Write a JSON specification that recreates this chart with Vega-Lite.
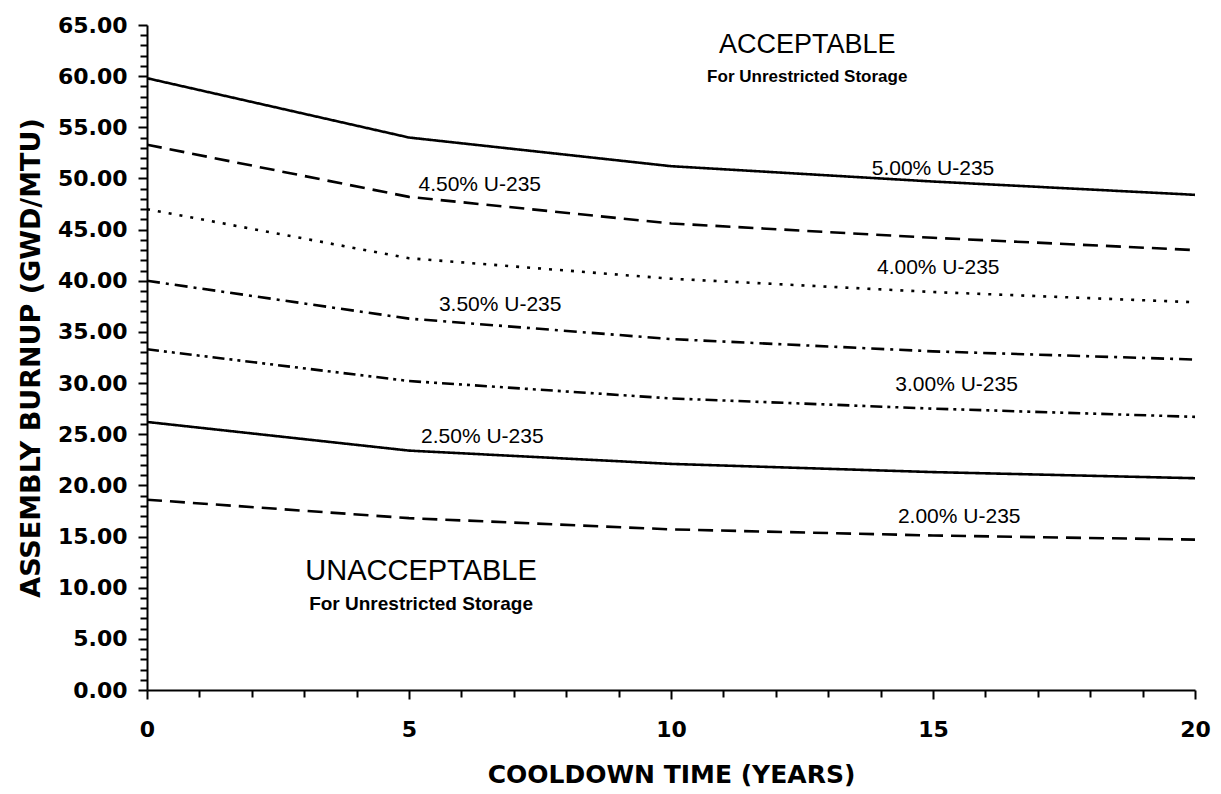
{
  "$schema": "https://vega.github.io/schema/vega-lite/v6.json",
  "width": 1048,
  "height": 665,
  "autosize": "none",
  "padding": {"left": 147, "top": 25, "right": 26, "bottom": 104},
  "background": "white",
  "config": {"view": {"stroke": null}, "font": "Liberation Sans"},
  "datasets": {
    "curves": [
      {"u": "5.00% U-235", "t": 0, "b": 59.8},
      {"u": "5.00% U-235", "t": 5, "b": 54.0},
      {"u": "5.00% U-235", "t": 10, "b": 51.2},
      {"u": "5.00% U-235", "t": 15, "b": 49.7},
      {"u": "5.00% U-235", "t": 20, "b": 48.4},
      {"u": "4.50% U-235", "t": 0, "b": 53.3},
      {"u": "4.50% U-235", "t": 5, "b": 48.2},
      {"u": "4.50% U-235", "t": 10, "b": 45.6},
      {"u": "4.50% U-235", "t": 15, "b": 44.2},
      {"u": "4.50% U-235", "t": 20, "b": 43.0},
      {"u": "4.00% U-235", "t": 0, "b": 47.0},
      {"u": "4.00% U-235", "t": 5, "b": 42.2},
      {"u": "4.00% U-235", "t": 10, "b": 40.2},
      {"u": "4.00% U-235", "t": 15, "b": 38.9},
      {"u": "4.00% U-235", "t": 20, "b": 37.9},
      {"u": "3.50% U-235", "t": 0, "b": 40.0},
      {"u": "3.50% U-235", "t": 5, "b": 36.3},
      {"u": "3.50% U-235", "t": 10, "b": 34.3},
      {"u": "3.50% U-235", "t": 15, "b": 33.1},
      {"u": "3.50% U-235", "t": 20, "b": 32.3},
      {"u": "3.00% U-235", "t": 0, "b": 33.3},
      {"u": "3.00% U-235", "t": 5, "b": 30.2},
      {"u": "3.00% U-235", "t": 10, "b": 28.5},
      {"u": "3.00% U-235", "t": 15, "b": 27.5},
      {"u": "3.00% U-235", "t": 20, "b": 26.7},
      {"u": "2.50% U-235", "t": 0, "b": 26.2},
      {"u": "2.50% U-235", "t": 5, "b": 23.4},
      {"u": "2.50% U-235", "t": 10, "b": 22.1},
      {"u": "2.50% U-235", "t": 15, "b": 21.3},
      {"u": "2.50% U-235", "t": 20, "b": 20.7},
      {"u": "2.00% U-235", "t": 0, "b": 18.6},
      {"u": "2.00% U-235", "t": 5, "b": 16.8},
      {"u": "2.00% U-235", "t": 10, "b": 15.7},
      {"u": "2.00% U-235", "t": 15, "b": 15.1},
      {"u": "2.00% U-235", "t": 20, "b": 14.7}
    ],
    "curveLabels": [
      {"label": "5.00% U-235", "t": 15.0, "b": 50.9},
      {"label": "4.50% U-235", "t": 6.35, "b": 49.4},
      {"label": "4.00% U-235", "t": 15.1, "b": 41.2},
      {"label": "3.50% U-235", "t": 6.74, "b": 37.6},
      {"label": "3.00% U-235", "t": 15.45, "b": 29.8},
      {"label": "2.50% U-235", "t": 6.4, "b": 24.7},
      {"label": "2.00% U-235", "t": 15.5, "b": 16.9}
    ],
    "upperTitle": [{"label": "ACCEPTABLE", "t": 12.6, "b": 63.0}],
    "upperSub": [{"label": "For Unrestricted Storage", "t": 12.6, "b": 59.9}],
    "lowerTitle": [{"label": "UNACCEPTABLE", "t": 5.23, "b": 11.6}],
    "lowerSub": [{"label": "For Unrestricted Storage", "t": 5.23, "b": 8.4}]
  },
  "encoding": {
    "x": {
      "field": "t", "type": "quantitative",
      "scale": {"domain": [0, 20], "nice": false, "zero": false},
      "axis": {
        "title": "COOLDOWN TIME (YEARS)",
        "titleFont": "DejaVu Sans", "titleFontSize": 25, "titleFontWeight": "bold",
        "titleColor": "black", "titlePadding": 22,
        "values": [0,1,2,3,4,5,6,7,8,9,10,11,12,13,14,15,16,17,18,19,20],
        "tickCount": 100,
        "labelExpr": "datum.value % 5 === 0 ? datum.value : ''",
        "labelFont": "DejaVu Sans", "labelFontSize": 22, "labelFontWeight": "bold",
        "labelColor": "black", "labelPadding": 20,
        "domainColor": "black", "domainWidth": 2,
        "tickColor": "black", "tickWidth": 2,
        "tickSize": {"condition": {"test": "datum.value % 5 === 0", "value": 9}, "value": 7},
        "grid": false, "labelFlush": false, "labelOverlap": false
      }
    },
    "y": {
      "field": "b", "type": "quantitative",
      "scale": {"domain": [0, 65], "nice": false},
      "axis": {
        "title": "ASSEMBLY BURNUP (GWD/MTU)",
        "titleFont": "DejaVu Sans", "titleFontSize": 27, "titleFontWeight": "bold",
        "titleColor": "black", "titlePadding": 12,
        "values": [0,1,2,3,4,5,6,7,8,9,10,11,12,13,14,15,16,17,18,19,20,21,22,23,24,25,26,27,28,29,30,31,32,33,34,35,36,37,38,39,40,41,42,43,44,45,46,47,48,49,50,51,52,53,54,55,56,57,58,59,60,61,62,63,64,65],
        "tickCount": 200,
        "labelExpr": "datum.value % 5 === 0 ? format(datum.value, '.2f') : ''",
        "labelFont": "DejaVu Sans", "labelFontSize": 22, "labelFontWeight": "bold",
        "labelColor": "black", "labelPadding": 11,
        "domainColor": "black", "domainWidth": 2,
        "tickColor": "black", "tickWidth": 2,
        "tickSize": {"condition": {"test": "datum.value % 5 === 0", "value": 9}, "value": 7},
        "grid": false, "labelFlush": false, "labelOverlap": false
      }
    }
  },
  "layer": [
    {
      "data": {"name": "curves"},
      "mark": {"type": "line", "color": "black", "strokeWidth": 2.6, "clip": true},
      "encoding": {
        "detail": {"field": "u"},
        "strokeDash": {
          "field": "u", "type": "nominal", "legend": null,
          "scale": {
            "domain": ["5.00% U-235", "4.50% U-235", "4.00% U-235", "3.50% U-235", "3.00% U-235", "2.50% U-235", "2.00% U-235"],
            "range": [[1, 0], [15, 8], [3, 8], [13, 6, 3, 6], [12, 5, 3, 5, 3, 5], [1, 0], [15, 8]]
          }
        }
      }
    },
    {
      "data": {"name": "curveLabels"},
      "mark": {"type": "text", "font": "Liberation Sans", "fontSize": 21, "color": "black", "align": "center", "baseline": "middle"},
      "encoding": {"text": {"field": "label"}}
    },
    {
      "data": {"name": "upperTitle"},
      "mark": {"type": "text", "font": "Liberation Sans", "fontSize": 27, "color": "black", "align": "center", "baseline": "middle"},
      "encoding": {"text": {"field": "label"}}
    },
    {
      "data": {"name": "upperSub"},
      "mark": {"type": "text", "font": "Liberation Sans", "fontSize": 17, "fontWeight": "bold", "color": "black", "align": "center", "baseline": "middle"},
      "encoding": {"text": {"field": "label"}}
    },
    {
      "data": {"name": "lowerTitle"},
      "mark": {"type": "text", "font": "Liberation Sans", "fontSize": 29, "color": "black", "align": "center", "baseline": "middle"},
      "encoding": {"text": {"field": "label"}}
    },
    {
      "data": {"name": "lowerSub"},
      "mark": {"type": "text", "font": "Liberation Sans", "fontSize": 19, "fontWeight": "bold", "color": "black", "align": "center", "baseline": "middle"},
      "encoding": {"text": {"field": "label"}}
    }
  ]
}
